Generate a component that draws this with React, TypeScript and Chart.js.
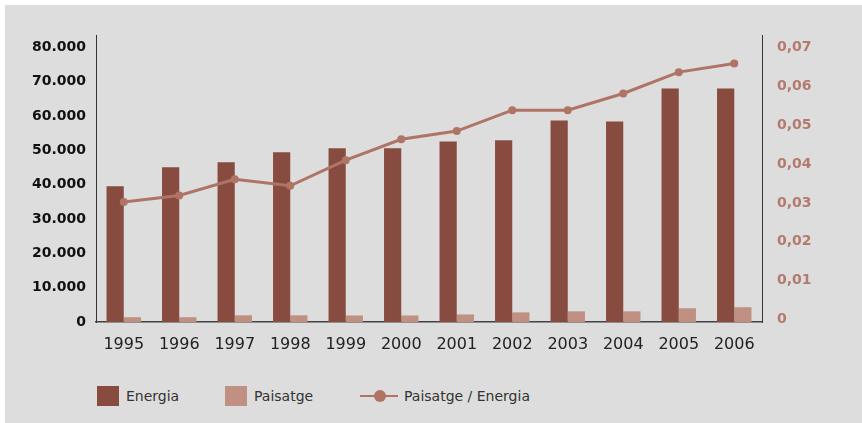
import React, { useEffect, useRef } from "react";
import { Chart, registerables } from "chart.js";

Chart.register(...registerables);

const years = ["1995", "1996", "1997", "1998", "1999", "2000", "2001", "2002", "2003", "2004", "2005", "2006"];
const energia = [39500, 45050, 46500, 49400, 50600, 50600, 52600, 52900, 58700, 58400, 68000, 68000];
const paisatge = [1400, 1400, 1950, 1950, 1900, 1900, 2200, 2800, 3100, 3100, 4000, 4300];
const ratio = [0.0302, 0.0319, 0.0361, 0.0344, 0.041, 0.0464, 0.0485, 0.0539, 0.0539, 0.0582, 0.0637, 0.0659];
const leftTicks = [0, 10000, 20000, 30000, 40000, 50000, 60000, 70000, 80000];
const rightTicks = [0, 0.01, 0.02, 0.03, 0.04, 0.05, 0.06, 0.07];

const C_ENERGIA = "#874b3f";
const C_PAISATGE = "#c09083";
const C_LINE = "#b07467";
const C_BG = "#dcdddc";
const FONT = "'DejaVu Sans', sans-serif";

const fmtLeft = (v: number) => (v === 0 ? "0" : String(v).replace(/\B(?=(\d{3})+(?!\d))/g, "."));
const fmtRight = (v: number) => (v === 0 ? "0" : v.toFixed(2).replace(".", ","));

export default function App() {
  const ref = useRef<HTMLCanvasElement | null>(null);
  useEffect(() => {
    if (!ref.current) return;
    const chart = new Chart(ref.current, {
      type: "bar",
      data: {
        labels: years,
        datasets: [
          {
            type: "line",
            label: "Paisatge / Energia",
            data: ratio,
            yAxisID: "y2",
            borderColor: C_LINE,
            backgroundColor: C_LINE,
            borderWidth: 3,
            pointRadius: 4,
            pointBorderWidth: 0,
            pointBackgroundColor: C_LINE,
            tension: 0,
            order: 0,
          } as any,
          {
            label: "Energia",
            data: energia,
            yAxisID: "y",
            backgroundColor: C_ENERGIA,
            categoryPercentage: 0.62,
            barPercentage: 1,
            order: 1,
          },
          {
            label: "Paisatge",
            data: paisatge,
            yAxisID: "y",
            backgroundColor: C_PAISATGE,
            categoryPercentage: 0.62,
            barPercentage: 1,
            order: 1,
          },
        ],
      },
      options: {
        responsive: false,
        animation: false,
        layout: { padding: { top: 35, left: 0, right: 0, bottom: 0 } },
        plugins: { legend: { display: false }, tooltip: { enabled: false } },
        scales: {
          x: {
            grid: { display: false, drawTicks: false },
            border: { display: true, color: "rgba(40,40,40,0.85)", width: 1.5 },
            ticks: { color: "#222", font: { family: FONT, size: 16 }, padding: 13, maxRotation: 0 },
            afterFit: (s: any) => {
              s.height = 38;
            },
          },
          y: {
            position: "left",
            min: 0,
            max: 83580,
            grid: { display: false, drawTicks: false },
            border: { display: true, color: "#333", width: 1 },
            ticks: {
              color: "#111",
              font: { family: FONT, size: 14, weight: "bold" },
              padding: 10,
              callback: (v: any) => fmtLeft(Number(v)),
            },
            afterBuildTicks: (s: any) => {
              s.ticks = leftTicks.map((v) => ({ value: v }));
            },
            afterFit: (s: any) => {
              s.width = 96;
            },
          },
          y2: {
            position: "right",
            min: -0.0007,
            max: 0.07327,
            grid: { display: false, drawTicks: false },
            border: { display: true, color: "#333", width: 1 },
            ticks: {
              color: "#b47a6e",
              font: { family: FONT, size: 14, weight: "bold" },
              padding: 15,
              callback: (v: any) => fmtRight(Number(v)),
            },
            afterBuildTicks: (s: any) => {
              s.ticks = rightTicks.map((v) => ({ value: v }));
            },
            afterFit: (s: any) => {
              s.width = 100;
            },
          },
        },
      } as any,
    });
    return () => chart.destroy();
  }, []);

  const legendText: React.CSSProperties = {
    position: "absolute",
    top: 387,
    fontFamily: FONT,
    fontSize: 14,
    color: "#333",
    lineHeight: "18px",
    whiteSpace: "nowrap",
  };

  return (
    <div style={{ position: "absolute", left: 0, top: 0, width: 862, height: 423, background: "#fff", overflow: "hidden" }}>
      <div style={{ position: "absolute", left: 5, top: 5, width: 857, height: 418, background: C_BG }} />
      <canvas ref={ref} width={862} height={360} style={{ position: "absolute", left: 0, top: 0, width: 862, height: 360 }} />
      <div style={{ position: "absolute", left: 97, top: 386, width: 22, height: 20, background: C_ENERGIA }} />
      <div style={{ ...legendText, left: 126 }}>Energia</div>
      <div style={{ position: "absolute", left: 225, top: 386, width: 22, height: 20, background: C_PAISATGE }} />
      <div style={{ ...legendText, left: 254 }}>Paisatge</div>
      <div style={{ position: "absolute", left: 360, top: 395, width: 38, height: 2, background: C_LINE }} />
      <div style={{ position: "absolute", left: 374, top: 390, width: 12, height: 12, borderRadius: 6, background: C_LINE }} />
      <div style={{ ...legendText, left: 404 }}>Paisatge / Energia</div>
    </div>
  );
}
